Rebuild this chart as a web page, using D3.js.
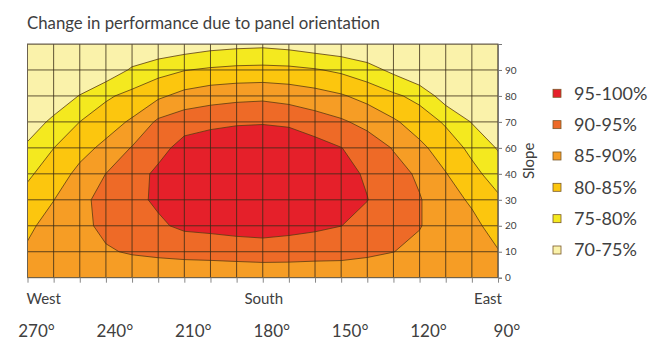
<!DOCTYPE html>
<html>
<head>
<meta charset="utf-8">
<script src="https://cdn.jsdelivr.net/npm/d3@7"></script>
<style>
  body { margin: 0; background: #fff; }
  text { font-family: Lato, "Open Sans", sans-serif; fill: #404040; }
</style>
</head>
<body>
<svg id="chart"></svg>
<script>
var azimuths = [270, 260, 250, 240, 230, 220, 210, 200, 190, 180, 170, 160, 150, 140, 130, 120, 110, 100, 90];
var slopes = [0, 10, 20, 30, 40, 50, 60, 70, 80, 90];
var slopeTickLabels = ["0", "10", "20", "30", "40", "60", "70", "80", "90", ""];
var degreeTicks = [270, 240, 210, 180, 150, 120, 90];
var compassNames = ["West", "South", "East"];
var compassAzimuths = [270, 180, 90];
var thresholds = [75, 80, 85, 90, 95];
var bandNames = ["95-100%", "90-95%", "85-90%", "80-85%", "75-80%", "70-75%"];

// performance (%) per slope row (0 -> 90), one value per azimuth (270 -> 90)
var performance = [
  [87, 87, 87, 87, 87, 87, 87, 87, 87, 87, 87, 87, 87, 87, 87, 87, 87, 87, 87],
  [85.7, 87.8, 88.2, 89.6, 90.4, 90.9, 91.3, 91.5, 91.8, 92.1, 92.0, 91.7, 91.55, 90.85, 90.05, 89.0, 88.0, 87.3, 85.25],
  [84.0, 87.0, 89.0, 90.9, 92.4, 94.2, 96.0, 96.5, 97.2, 97.6, 96.8, 96.0, 95.05, 93.4, 91.75, 90.2, 88.0, 86.3, 83.0],
  [81.7, 84.9, 89.0, 91.3, 93.7, 95.8, 97.5, 98.5, 99.0, 99.5, 99.0, 98.0, 96.5, 95.1, 92.35, 90.3, 87.0, 84.3, 80.8],
  [79.2, 82.4, 86.3, 90.05, 92.9, 96.0, 97.5, 99.0, 99.5, 100, 99.5, 98.2, 96.3, 94.5, 91.9, 89.2, 85.2, 81.4, 77.8],
  [75.8, 79.95, 83.3, 86.2, 90.3, 93.4, 96.7, 98.3, 99.3, 99.5, 99.2, 97.0, 95.1, 92.8, 89.7, 86.1, 82.65, 78.8, 74.6],
  [72.5, 76.0, 80.03, 82.8, 85.7, 90.9, 93.0, 93.6, 94.25, 94.5, 93.9, 92.3, 90.7, 88.5, 85.7, 82.7, 79.35, 74.75, 71.0],
  [70, 72.0, 75.2, 79.2, 81.5, 84.1, 86.6, 88.0, 88.6, 88.9, 88.1, 86.95, 85.5, 83.4, 80.9, 78.5, 72.5, 71.5, 70],
  [70, 70, 70.3, 71.5, 75.7, 78.1, 79.8, 80.7, 81.25, 81.4, 81.2, 80.4, 79.1, 77.0, 73.8, 70, 70, 70, 70],
  [70, 70, 70, 70, 70, 70.7, 71.8, 73.0, 73.6, 73.9, 73.2, 72.0, 71.1, 70, 70, 70, 70, 70, 70]
];

var bandColors = ["#e5202a", "#ee6a27", "#f69d25", "#fcc60e", "#f4e91f", "#faf2aa"];

function contour_chart() {
    var width = 650;
    var height = 350;
    var margin = { top: 44, left: 27.5, right: 152, bottom: 72.3 };

    var svg = d3.select("#chart")
                .attr("width", width)
                .attr("height", height);

    var x = d3.scaleLinear()
              .domain([270, 90])
              .range([margin.left, width - margin.right]);
    var y = d3.scaleLinear()
              .domain([0, 90])
              .range([height - margin.bottom, margin.top]);

    var color = d3.scaleThreshold()
                  .domain(thresholds)
                  .range(bandColors.slice().reverse());

    // title
    svg.append("text")
       .attr("x", 27)
       .attr("y", 29)
       .style("font-size", "16.8px")
       .text("Change in performance due to panel orientation");

    svg.append("clipPath")
       .attr("id", "plotclip")
       .append("rect")
       .attr("x", x(270))
       .attr("y", y(90))
       .attr("width", x(90) - x(270))
       .attr("height", y(0) - y(90));

    var plot = svg.append("g")
                  .attr("clip-path", "url(#plotclip)");

    plot.append("rect")
        .attr("x", x(270))
        .attr("y", y(90))
        .attr("width", x(90) - x(270))
        .attr("height", y(0) - y(90))
        .attr("fill", color(70));

    // grid cells of d3.contours sit at i + 0.5
    var values = [].concat.apply([], performance);
    var contours = d3.contours()
                     .size([azimuths.length, slopes.length])
                     .thresholds(thresholds)(values);

    var path = d3.geoPath(d3.geoTransform({
        point: function(cx, cy) {
            var az = azimuths[0] - (cx - 0.5) * (azimuths[0] - azimuths[1]);
            var sl = (cy - 0.5) * (slopes[1] - slopes[0]);
            this.stream.point(x(az), y(sl));
        }
    }));

    plot.selectAll("path.band")
        .data(contours)
        .enter()
        .append("path")
        .attr("class", "band")
        .attr("d", path)
        .attr("fill", function(d) { return color(d.value); })
        .attr("stroke", "#5b3b12")
        .attr("stroke-width", 0.8)
        .attr("stroke-linejoin", "round");

    // grid
    plot.selectAll("line.vgrid")
        .data(azimuths)
        .enter()
        .append("line")
        .attr("class", "vgrid")
        .attr("x1", function(d) { return x(d); })
        .attr("x2", function(d) { return x(d); })
        .attr("y1", y(0))
        .attr("y2", y(90))
        .attr("stroke", "#3a2c18")
        .attr("stroke-width", 1)
        .attr("opacity", 0.8);

    plot.selectAll("line.hgrid")
        .data(slopes)
        .enter()
        .append("line")
        .attr("class", "hgrid")
        .attr("x1", x(270))
        .attr("x2", x(90))
        .attr("y1", function(d) { return y(d); })
        .attr("y2", function(d) { return y(d); })
        .attr("stroke", "#3a2c18")
        .attr("stroke-width", 1)
        .attr("opacity", 0.8);

    svg.append("rect")
       .attr("x", x(270))
       .attr("y", y(90))
       .attr("width", x(90) - x(270))
       .attr("height", y(0) - y(90))
       .attr("fill", "none")
       .attr("stroke", "#6b6150")
       .attr("stroke-width", 1);

    // right slope axis
    var yAxis = svg.append("g")
                   .attr("transform", "translate(" + x(90) + ",0)")
                   .call(d3.axisRight(y)
                           .tickValues(slopes)
                           .tickSize(4)
                           .tickPadding(3)
                           .tickFormat(function(d, i) { return slopeTickLabels[i]; }));
    yAxis.select(".domain").attr("stroke", "#777");
    yAxis.selectAll(".tick line").attr("stroke", "#777");
    yAxis.selectAll(".tick text")
         .style("font-size", "10px")
         .attr("fill", "#404040");

    // bottom ticks
    var xAxis = svg.append("g")
                   .attr("transform", "translate(0," + y(0) + ")")
                   .call(d3.axisBottom(x)
                           .tickValues(azimuths)
                           .tickSize(5)
                           .tickFormat(""));
    xAxis.select(".domain").remove();
    xAxis.selectAll(".tick line").attr("stroke", "#888");

    svg.selectAll("text.compass")
       .data(compassNames)
       .enter()
       .append("text")
       .attr("class", "compass")
       .attr("x", function(d, i) { return x(compassAzimuths[i]) + [-1, 1, 4][i]; })
       .attr("y", 304)
       .attr("text-anchor", function(d, i) { return ["start", "middle", "end"][i]; })
       .style("font-size", "15px")
       .text(function(d) { return d; });

    svg.selectAll("text.degree")
       .data(degreeTicks)
       .enter()
       .append("text")
       .attr("class", "degree")
       .attr("x", function(d) { return x(d) + 9; })
       .attr("y", 337)
       .attr("text-anchor", "middle")
       .style("font-size", "17px")
       .text(function(d) { return d + "\u00b0"; });

    svg.append("text")
       .attr("transform", "translate(534," + y(45) + ") rotate(-90)")
       .attr("text-anchor", "middle")
       .style("font-size", "15px")
       .text("Slope");

    // legend
    var ly = d3.scalePoint()
               .domain(bandNames)
               .range([93.3, 250]);

    var legend = svg.selectAll("g.legend")
                    .data(bandNames)
                    .enter()
                    .append("g")
                    .attr("class", "legend")
                    .attr("transform", function(d) { return "translate(553," + ly(d) + ")"; });
    legend.append("rect")
          .attr("x", 0)
          .attr("y", -4)
          .attr("width", 8)
          .attr("height", 8)
          .attr("fill", function(d, i) { return bandColors[i]; })
          .attr("stroke", "#7a5a2a")
          .attr("stroke-width", 0.8);
    legend.append("text")
          .attr("x", 21)
          .attr("dy", "0.36em")
          .style("font-size", "18px")
          .text(function(d) { return d; });
}

contour_chart();
</script>
</body>
</html>
